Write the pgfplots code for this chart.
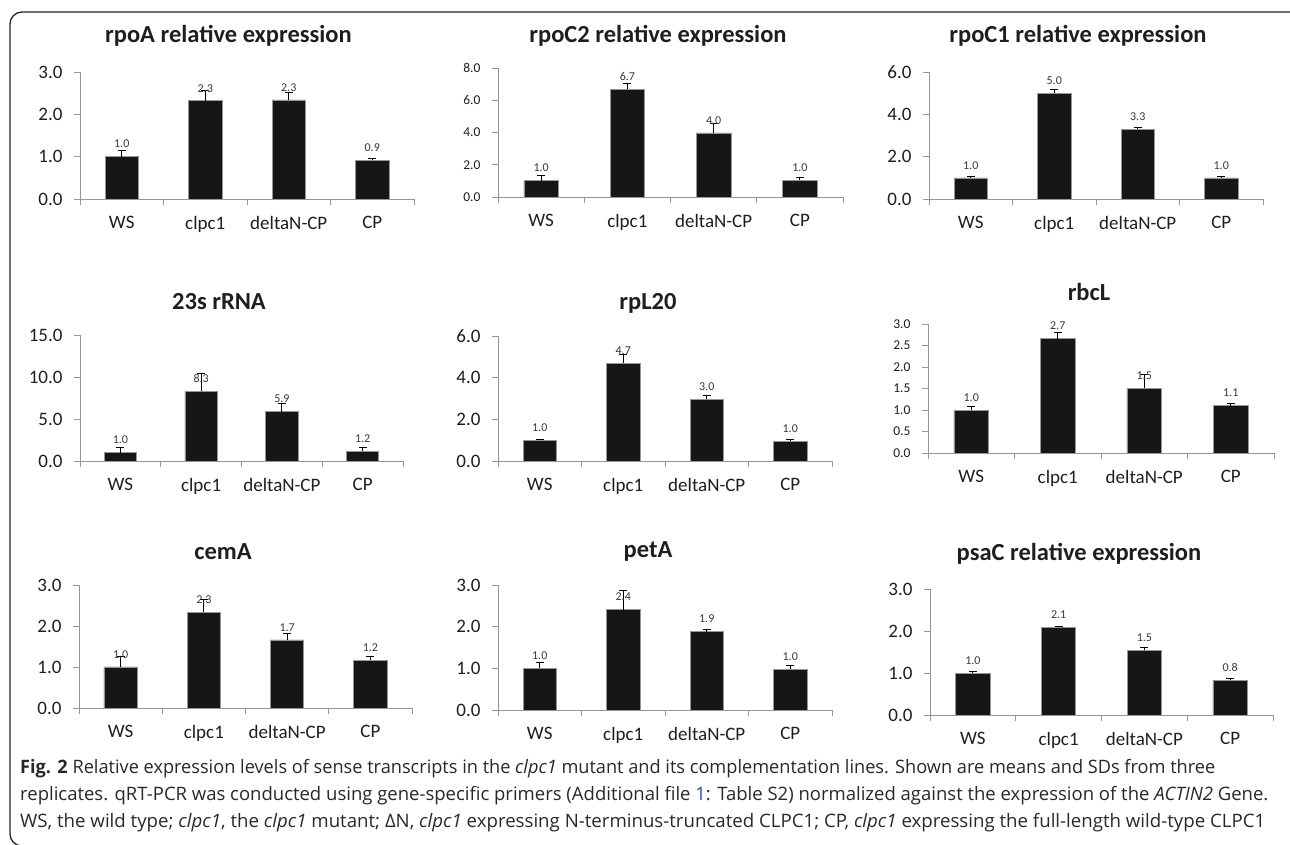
\documentclass[border=0pt]{standalone}
\usepackage{fontspec}
\usepackage{graphicx}
\usepackage{pgfplots}
\pgfplotsset{compat=1.18}
\setmainfont{Carlito}
\newfontfamily\capfont{Open Sans}
\definecolor{axisgray}{RGB}{150,150,150}
\definecolor{barblack}{RGB}{22,22,22}
\definecolor{txt}{RGB}{30,30,30}
\definecolor{lbl}{RGB}{55,55,55}
\definecolor{linkblue}{RGB}{40,80,200}
\definecolor{capgray}{RGB}{40,40,40}
\pgfplotsset{
  panel/.style={
    scale only axis, anchor=south west, clip=false,
    xmin=-0.5, xmax=3.5, ymin=0,
    axis x line=bottom, axis y line=left,
    axis line style={-, draw=axisgray, line width=0.8pt},
    tick style={draw=axisgray, line width=0.8pt},
    tick align=outside, major tick length=6pt,
    xtick={-0.5,0.5,1.5,2.5,3.5}, xticklabels={,,,,,},
    extra x ticks={0,1,2,3},
    extra x tick labels={WS,clpc1,deltaN-CP,CP},
    extra x tick style={major tick length=0pt},
    xticklabel style={font=\fontsize{19}{22}\selectfont, text=txt, yshift=-14pt},
    yticklabel style={font=\fontsize{19}{22}\selectfont, text=txt, xshift=-8pt,
      /pgf/number format/fixed, /pgf/number format/fixed zerofill,
      /pgf/number format/precision=1, /pgf/number format/assume math mode=true},
    ybar, bar width=0.4,
    nodes near coords={\pgfmathprintnumber[fixed,fixed zerofill,precision=1,assume math mode=true]{\pgfplotspointmeta}},
    every node near coord/.append style={font=\fontsize{12}{14}\selectfont, text=lbl, anchor=south, yshift=5pt},
    every axis plot post/.style={fill=barblack, draw=axisgray, line width=0.6pt},
    error bars/y dir=plus, error bars/y explicit,
    error bars/error bar style={black, line width=0.8pt},
    error bars/error mark options={rotate=90, black, mark size=4pt, line width=0.8pt},
  },
  smallticks/.style={yticklabel style={font=\fontsize{13.5}{16}\selectfont}},
}
\tikzset{ttl/.style={font=\bfseries\fontsize{24.5}{28}\selectfont, text=txt}}
\begin{document}
\begin{tikzpicture}
\path[use as bounding box] (0pt,0pt) rectangle (1290pt,845pt);
\draw[line width=1.3pt, draw=black!85, rounded corners=12pt] (1300pt,833pt) -- (10pt,833pt) -- (10pt,-1pt) -- (1300pt,-1pt);

% Row 1
\begin{axis}[panel, at={(80pt,646pt)}, width=334pt, height=127pt, ymax=3, ytick={0,1,2,3}]
\addplot coordinates {(0,1.0) +- (0,0.15) (1,2.32) +- (0,0.25) (2,2.34) +- (0,0.17) (3,0.92) +- (0,0.04)};
\end{axis}
\node[ttl] at (228.5pt,809pt) {rpoA relative expression};

\begin{axis}[panel, smallticks, at={(498pt,648pt)}, width=345pt, height=129pt, ymax=8, ytick={0,2,4,6,8}]
\addplot coordinates {(0,1.01) +- (0,0.33) (1,6.69) +- (0,0.37) (2,3.97) +- (0,0.62) (3,1.04) +- (0,0.17)};
\end{axis}
\node[ttl] at (658pt,809pt) {rpoC2 relative expression};

\begin{axis}[panel, at={(929pt,646pt)}, width=334pt, height=127pt, ymax=6, ytick={0,2,4,6}]
\addplot coordinates {(0,1.0) +- (0,0.06) (1,4.99) +- (0,0.19) (2,3.30) +- (0,0.09) (3,1.0) +- (0,0.06)};
\end{axis}
\node[ttl] at (1078pt,809pt) {rpoC1 relative expression};

% Row 2
\begin{axis}[panel, at={(80pt,384pt)}, width=323pt, height=126pt, ymax=15, ytick={0,5,10,15}]
\addplot coordinates {(0,1.0) +- (0,0.64) (1,8.29) +- (0,2.1) (2,5.87) +- (0,1.0) (3,1.15) +- (0,0.48)};
\end{axis}
\node[ttl] at (219pt,543pt) {23s rRNA};

\begin{axis}[panel, at={(498pt,384pt)}, width=334pt, height=125pt, ymax=6, ytick={0,2,4,6}]
\addplot coordinates {(0,1.0) +- (0,0.05) (1,4.70) +- (0,0.42) (2,2.97) +- (0,0.19) (3,0.95) +- (0,0.11)};
\end{axis}
\node[ttl] at (648pt,542pt) {rpL20};

\begin{axis}[panel, smallticks, at={(928pt,392pt)}, width=346pt, height=129pt, ymax=3, ytick={0,0.5,1,1.5,2,2.5,3}]
\addplot coordinates {(0,0.99) +- (0,0.10) (1,2.66) +- (0,0.14) (2,1.51) +- (0,0.31) (3,1.10) +- (0,0.06)};
\end{axis}
\node[ttl] at (1089pt,553pt) {rbcL};

% Row 3
\begin{axis}[panel, at={(79pt,137pt)}, width=333pt, height=123pt, ymax=3, ytick={0,1,2,3}]
\addplot coordinates {(0,1.0) +- (0,0.25) (1,2.34) +- (0,0.30) (2,1.66) +- (0,0.16) (3,1.17) +- (0,0.09)};
\end{axis}
\node[ttl] at (223pt,293pt) {cemA};

\begin{axis}[panel, at={(498pt,135pt)}, width=334pt, height=125pt, ymax=3, ytick={0,1,2,3}]
\addplot coordinates {(0,1.0) +- (0,0.15) (1,2.41) +- (0,0.45) (2,1.88) +- (0,0.05) (3,0.98) +- (0,0.09)};
\end{axis}
\node[ttl] at (648pt,294pt) {petA};

\begin{axis}[panel, at={(930pt,130pt)}, width=343pt, height=126pt, ymax=3, ytick={0,1,2,3}]
\addplot coordinates {(0,0.99) +- (0,0.05) (1,2.09) +- (0,0.03) (2,1.54) +- (0,0.08) (3,0.83) +- (0,0.03)};
\end{axis}
\node[ttl] at (1079pt,291pt) {psaC relative expression};

% Caption
\begin{scope}[every node/.style={anchor=base west, inner sep=0pt, text=capgray, font=\capfont\fontsize{18.5}{22}\selectfont}]
\node at (20pt,71pt) {\resizebox{1195pt}{\height}{\textbf{Fig. 2} Relative expression levels of sense transcripts in the \textit{clpc1} mutant and its complementation lines. Shown are means and SDs from three}};
\node at (20pt,44pt) {\resizebox{1248pt}{\height}{replicates. qRT-PCR was conducted using gene-specific primers (Additional file {\color{linkblue}1}: Table S2) normalized against the expression of the \textit{ACTIN2} Gene.}};
\node at (20pt,17pt) {\resizebox{1245pt}{\height}{WS, the wild type; \textit{clpc1}, the \textit{clpc1} mutant; ΔN, \textit{clpc1} expressing N-terminus-truncated CLPC1; CP, \textit{clpc1} expressing the full-length wild-type CLPC1}};
\end{scope}
\end{tikzpicture}
\end{document}
